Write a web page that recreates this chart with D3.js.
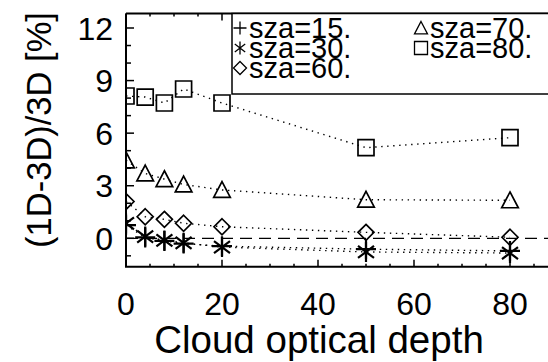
<!DOCTYPE html>
<html>
<head>
<meta charset="utf-8">
<script src="https://cdn.jsdelivr.net/npm/d3@7/dist/d3.min.js"></script>
<style>
  html, body { margin: 0; padding: 0; background: #fff; }
  svg { display: block; }
  text { font-family: "Liberation Sans", Arial, Helvetica, sans-serif; fill: #000; }
</style>
</head>
<body>
<svg id="chart" width="548" height="362"></svg>
<script>
// Cloud optical depths at which the 1D/3D comparison was computed
const tau = [0, 4, 8, 12, 20, 50, 80];

// Relative difference (1D-3D)/3D in percent for each solar zenith angle
const sza15 = [0.75, 0.05, -0.15, -0.30, -0.45, -0.62, -0.72];
const sza30 = [0.85, 0.10, -0.12, -0.26, -0.50, -0.78, -0.84];
const sza60 = [2.10, 1.23, 1.08, 0.86, 0.66, 0.34, 0.06];
const sza70 = [4.45, 3.70, 3.38, 3.07, 2.76, 2.20, 2.17];
const sza80 = [8.12, 8.06, 7.72, 8.52, 7.72, 5.17, 5.74];

const seriesNames = ["sza=15.", "sza=30.", "sza=60.", "sza=70.", "sza=80."];
const seriesSymbols = ["plus", "asterisk", "diamond", "triangle", "square"];
const seriesValues = [sza15, sza30, sza60, sza70, sza80];

const xTicks = [0, 20, 40, 60, 80];
const yTicks = [0, 3, 6, 9, 12];

const svg = d3.select("#chart");

// Plot frame: right side runs past the canvas edge
const frame = { left: 126, top: 13.5, bottom: 266.7 };
const x = d3.scaleLinear().domain([0, 90]).range([frame.left, 558]);
const y = d3.scaleLinear().domain([0, 12]).range([238.3, 28]);

// Marker path generators (s = half width)
function symbolPath(kind, s) {
  const p = d3.path();
  if (kind === "plus") {
    p.moveTo(-s, 0); p.lineTo(s, 0);
    p.moveTo(0, -s); p.lineTo(0, s);
  } else if (kind === "asterisk") {
    const a = s * 0.8, b = s * 0.6;
    p.moveTo(0, -s); p.lineTo(0, s);
    p.moveTo(-a, -b); p.lineTo(a, b);
    p.moveTo(-a, b); p.lineTo(a, -b);
  } else if (kind === "diamond") {
    p.moveTo(0, -s); p.lineTo(s, 0); p.lineTo(0, s); p.lineTo(-s, 0); p.closePath();
  } else if (kind === "triangle") {
    p.moveTo(0, -s); p.lineTo(s, s * 0.9); p.lineTo(-s, s * 0.9); p.closePath();
  } else if (kind === "square") {
    p.rect(-s, -s, 2 * s, 2 * s);
  }
  return p.toString();
}

const markerSize = { plus: 10, asterisk: 10, diamond: 8, triangle: 8.3, square: 8 };

svg.append("defs").append("clipPath").attr("id", "plotclip")
  .append("rect")
  .attr("x", frame.left).attr("y", frame.top)
  .attr("width", 548 - frame.left).attr("height", frame.bottom - frame.top);

const plot = svg.append("g").attr("clip-path", "url(#plotclip)");

// Zero reference line
plot.append("line")
  .attr("x1", x(0)).attr("x2", x(90))
  .attr("y1", y(0)).attr("y2", y(0))
  .attr("stroke", "#000").attr("stroke-width", 1.3)
  .attr("stroke-dasharray", "12 7");

// Dotted connecting lines and markers
const line = d3.line().x((d, i) => x(tau[i])).y(d => y(d));
seriesValues.forEach((vals, k) => {
  const kind = seriesSymbols[k];
  plot.append("path")
    .attr("d", line(vals))
    .attr("fill", "none").attr("stroke", "#000")
    .attr("stroke-width", 1.4)
    .attr("stroke-dasharray", "1.4 4.6");
  plot.selectAll(null).data(vals).enter().append("path")
    .attr("transform", (d, i) => `translate(${x(tau[i])},${y(d)})`)
    .attr("d", symbolPath(kind, markerSize[kind]))
    .attr("fill", "none").attr("stroke", "#000")
    .attr("stroke-width", kind === "plus" || kind === "asterisk" ? 2.2 : 1.7);
});

// Frame lines (left, bottom, top)
svg.append("path")
  .attr("d", `M${frame.left},${frame.top}H548M${frame.left},${frame.top}V${frame.bottom}H548`)
  .attr("fill", "none").attr("stroke", "#000").attr("stroke-width", 2);

// Axis ticks: major and minor
const xMinor = d3.range(0, 91, 5);
const yMinor = d3.range(-1, 13, 1);
const tickG = svg.append("g").attr("stroke", "#000").attr("stroke-width", 1.5);
xMinor.forEach(v => {
  const len = v % 20 === 0 ? 7 : 3;
  tickG.append("line").attr("x1", x(v)).attr("x2", x(v))
    .attr("y1", frame.bottom).attr("y2", frame.bottom - len);
  tickG.append("line").attr("x1", x(v)).attr("x2", x(v))
    .attr("y1", frame.top).attr("y2", frame.top + len);
});
yMinor.forEach(v => {
  const len = v % 3 === 0 ? 8 : 5;
  tickG.append("line").attr("x1", frame.left).attr("x2", frame.left + len)
    .attr("y1", y(v)).attr("y2", y(v));
});

// Tick labels
svg.append("g").selectAll("text").data(xTicks).enter().append("text")
  .attr("x", d => x(d)).attr("y", 315)
  .attr("text-anchor", "middle").attr("font-size", 32)
  .text(d => d);
svg.append("g").selectAll("text").data(yTicks).enter().append("text")
  .attr("x", 113).attr("y", d => y(d) + 11.5)
  .attr("text-anchor", "end").attr("font-size", 32)
  .text(d => d);

// Axis titles
svg.append("text")
  .attr("x", 319).attr("y", 353)
  .attr("text-anchor", "middle").attr("font-size", 38.5)
  .text("Cloud optical depth");
svg.append("text")
  .attr("transform", `translate(51,130) rotate(-90)`)
  .attr("text-anchor", "middle").attr("font-size", 34.5)
  .text("(1D-3D)/3D [%]");

// Legend box
const legend = svg.append("g");
legend.append("rect")
  .attr("x", 232).attr("y", frame.top)
  .attr("width", 330).attr("height", 94 - frame.top)
  .attr("fill", "#fff").attr("stroke", "#000").attr("stroke-width", 1.5);
const legendPos = [
  [240, 28], [240, 48], [240, 68], [421, 28], [421, 48]
];
seriesNames.forEach((name, k) => {
  const [lx, ly] = legendPos[k];
  legend.append("path")
    .attr("transform", `translate(${lx},${ly})`)
    .attr("d", symbolPath(seriesSymbols[k], 6.5))
    .attr("fill", "none").attr("stroke", "#000").attr("stroke-width", 1.3);
  legend.append("text")
    .attr("x", lx + 9).attr("y", ly + 10)
    .attr("font-size", 29)
    .text(name);
});
</script>
</body>
</html>
